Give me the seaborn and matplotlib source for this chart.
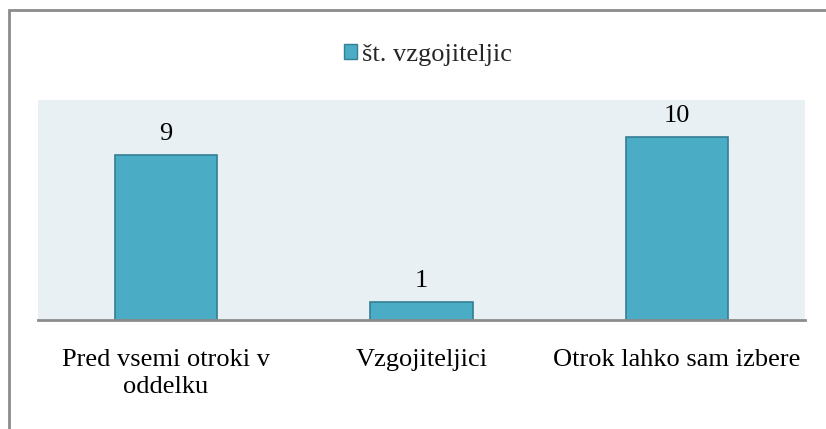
import matplotlib
matplotlib.use("Agg")
import matplotlib.pyplot as plt
import matplotlib.patches as mpatches
import seaborn as sns
import pandas as pd

categories = ["Pred vsemi otroki v\noddelku", "Vzgojiteljici", "Otrok lahko sam izbere"]
values = [9, 1, 10]
series_name = "št. vzgojiteljic"

sns.set_theme(style="white")
plt.rcParams["font.family"] = ["Liberation Serif", "DejaVu Serif"]

FS = 19

df = pd.DataFrame({"kategorija": categories, "vrednost": values})

fig = plt.figure(figsize=(8.26, 4.29), dpi=100)
ax = fig.add_axes([38 / 826, 1 - 320 / 429, (805 - 38) / 826, 220 / 429])
ax.set_facecolor("#E8F0F4")

sns.barplot(data=df, x="kategorija", y="vrednost", color="#4BACC6",
            saturation=1, width=0.4, edgecolor="#357F93", linewidth=1.2, ax=ax)

ax.set_xlim(-0.5, 2.5)
ax.set_ylim(0, 12)
ax.set_xlabel("")
ax.set_ylabel("")
ax.set_yticks([])
ax.tick_params(axis="x", length=0, pad=21, labelsize=FS, colors="black")
for lbl in ax.get_xticklabels():
    lbl.set_linespacing(1.3)
for s in ["top", "left", "right"]:
    ax.spines[s].set_visible(False)
ax.spines["bottom"].set_color("#8C8C8C")
ax.spines["bottom"].set_linewidth(2)

for i, v in enumerate(values):
    ax.annotate(str(v), (i, v), xytext=(0, 7), textcoords="offset points",
                ha="center", va="bottom", fontsize=FS, color="black")

handle = mpatches.Patch(facecolor="#4BACC6", edgecolor="#357F93", label=series_name)
fig.legend(handles=[handle], loc="center", bbox_to_anchor=(0.518, 0.872),
           frameon=False, fontsize=FS, handlelength=0.5, handleheight=0.5,
           handletextpad=0.2)

# outer chart border (only top/left visible in the cropped original)
border = mpatches.Rectangle((9 / 826, -0.1), 1.2, 1 - 10 / 429 + 0.1,
                            transform=fig.transFigure, fill=False,
                            edgecolor="#8C8C8C", linewidth=2, clip_on=False)
fig.patches.append(border)

fig.savefig("out.png", dpi=100)
